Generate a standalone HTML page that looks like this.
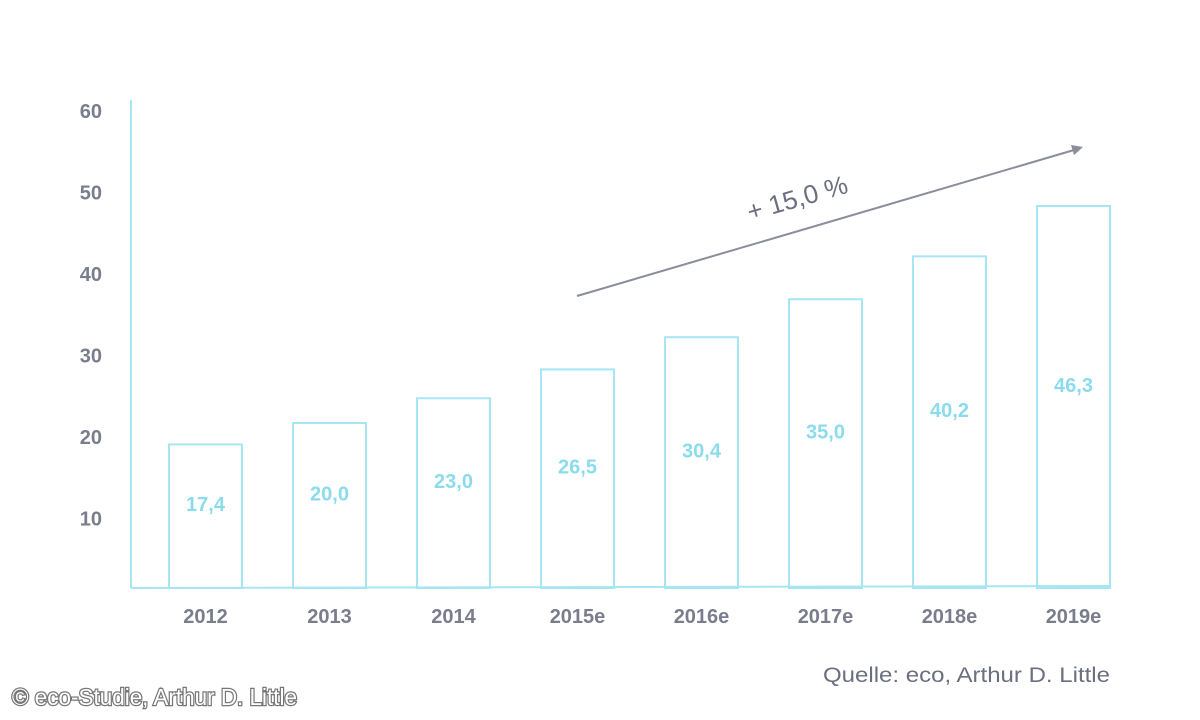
<!DOCTYPE html>
<html><head><meta charset="utf-8"><style>
html,body{margin:0;padding:0;background:#fff;}
svg{display:block;font-family:"Liberation Sans",sans-serif;}
</style></head><body>
<svg id="chart" width="1200" height="720">
  <line x1="131" y1="100" x2="131" y2="588" stroke="#a6e6f2" stroke-width="2"/>
  <line x1="131" y1="588" x2="1110" y2="586" stroke="#a6e6f2" stroke-width="2"/>
  <g id="yticks"></g>
  <g id="bars"></g>
  <g id="xlabels"></g>
  <line x1="577" y1="296" x2="1074" y2="150" stroke="#8b8d9b" stroke-width="2"/>
  <polygon points="1083,147 1071,145 1074,155" fill="#8b8d9b"/>
  <text x="797" y="207" font-size="26" fill="#6b6f80" text-anchor="middle" transform="rotate(-16 797 197)">+ 15,0 %</text>
  <text x="823" y="682" font-size="21" fill="#6b6f80" textLength="287" lengthAdjust="spacingAndGlyphs">Quelle: eco, Arthur D. Little</text>
  <text x="12" y="705" font-size="23" fill="#fff" stroke="#777" stroke-width="2.5" paint-order="stroke" textLength="285" lengthAdjust="spacingAndGlyphs">© eco-Studie, Arthur D. Little</text>
</svg>
<script>
const categories=["2012","2013","2014","2015e","2016e","2017e","2018e","2019e"];
const values=[17.4,20.0,23.0,26.5,30.4,35.0,40.2,46.3];
const valueLabels=["17,4","20,0","23,0","26,5","30,4","35,0","40,2","46,3"];
const yTicks=[10,20,30,40,50,60];
const NS="http://www.w3.org/2000/svg";
function yBar(v){return 588-v*8.25;}
function yTick(v){return 600-v*8.15;}
function xBar(i){return 169+i*124;}
const bw=73;
const gT=document.getElementById('yticks'),gB=document.getElementById('bars'),gX=document.getElementById('xlabels');
yTicks.forEach(t=>{
  const e=document.createElementNS(NS,'text');
  
  
  e.setAttribute('x',102);e.setAttribute('y',yTick(t)+7);
  e.setAttribute('font-size','20');e.setAttribute('font-weight','bold');e.setAttribute('fill','#7a7d8c');e.setAttribute('text-anchor','end');
  e.textContent=t;gT.appendChild(e);
});
values.forEach((v,i)=>{
  const r=document.createElementNS(NS,'rect');
  
  
  const top=yBar(v);
  r.setAttribute('x',xBar(i));r.setAttribute('y',top);r.setAttribute('width',bw);r.setAttribute('height',588-top);
  r.setAttribute('fill','none');r.setAttribute('stroke','#a6e6f2');r.setAttribute('stroke-width','2');
  gB.appendChild(r);
  const t=document.createElementNS(NS,'text');
  
  
  t.setAttribute('x',xBar(i)+bw/2);t.setAttribute('y',(top+588)/2-5);
  t.setAttribute('font-size','20');t.setAttribute('font-weight','bold');t.setAttribute('fill','#8adcec');t.setAttribute('text-anchor','middle');
  t.textContent=valueLabels[i];gB.appendChild(t);
  const x=document.createElementNS(NS,'text');
  
  
  x.setAttribute('x',xBar(i)+bw/2);x.setAttribute('y',623);
  x.setAttribute('font-size','20');x.setAttribute('font-weight','bold');x.setAttribute('fill','#7a7d8c');x.setAttribute('text-anchor','middle');
  x.textContent=categories[i];gX.appendChild(x);
});
</script>
</body></html>
